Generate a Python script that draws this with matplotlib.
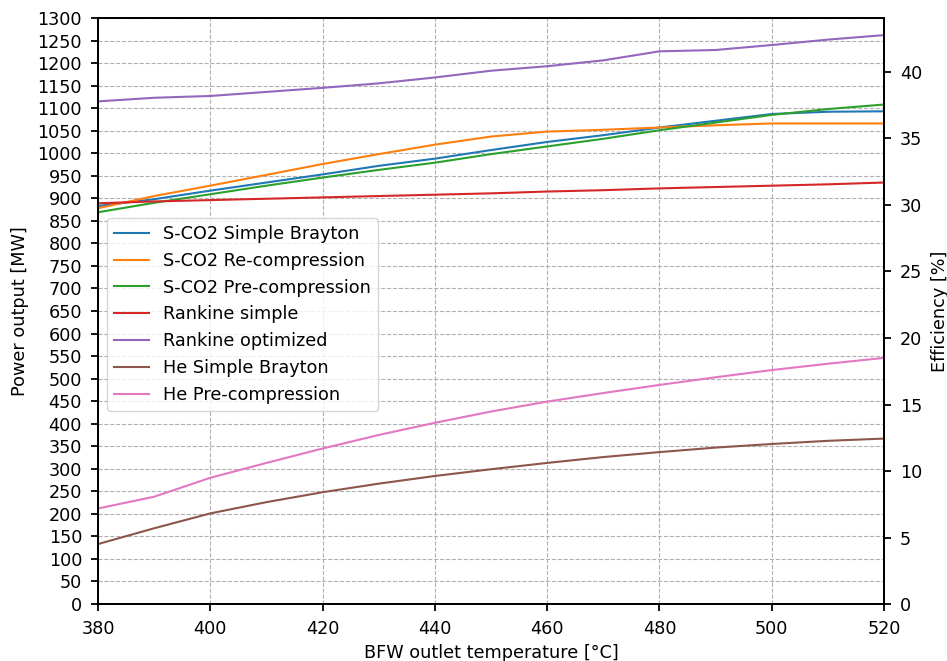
import numpy as np
import matplotlib.pyplot as plt

plt.rcParams['font.size'] = 12.7

temp = [380, 390, 400, 410, 420, 430, 440, 450, 460, 470, 480, 490, 500, 510, 520]

sco2_simple = [883, 898, 917, 935, 953, 972, 988, 1007, 1025, 1040, 1057, 1072, 1087, 1092, 1093]
sco2_recomp = [878, 905, 928, 952, 976, 998, 1019, 1037, 1048, 1052, 1057, 1062, 1066, 1066, 1066]
sco2_precomp = [869, 890, 909, 928, 946, 963, 979, 998, 1015, 1032, 1051, 1068, 1085, 1098, 1108]
rankine_simple = [889, 893, 896, 899, 902, 905, 908, 911, 915, 918, 922, 925, 928, 931, 935]
rankine_opt = [1115, 1123, 1127, 1136, 1145, 1155, 1168, 1183, 1193, 1206, 1226, 1229, 1240, 1252, 1262]
he_simple = [133, 168, 201, 226, 248, 267, 284, 299, 313, 326, 337, 347, 355, 362, 367]
he_precomp = [212, 238, 280, 313, 345, 375, 402, 427, 449, 468, 486, 503, 519, 533, 546]

series = [
    ('S-CO2 Simple Brayton', sco2_simple),
    ('S-CO2 Re-compression', sco2_recomp),
    ('S-CO2 Pre-compression', sco2_precomp),
    ('Rankine simple', rankine_simple),
    ('Rankine optimized', rankine_opt),
    ('He Simple Brayton', he_simple),
    ('He Pre-compression', he_precomp),
]

fig, ax = plt.subplots(figsize=(9.47, 6.61), dpi=100)
fig.subplots_adjust(left=0.1035, right=0.9335, top=0.9728, bottom=0.0862)

for name, vals in series:
    ax.plot(temp, vals, label=name, linewidth=1.5)

ax.set_xlim(380, 520)
ax.set_ylim(0, 1300)
ax.set_yticks(np.arange(0, 1301, 50))
ax.set_xticks(np.arange(380, 521, 20))
ax.grid(True, linestyle='--', color='#b0b0b0', linewidth=0.8)
ax.set_xlabel('BFW outlet temperature [°C]', labelpad=4)
ax.set_ylabel('Power output [MW]', labelpad=6)
ax.tick_params(length=5, width=1.3, pad=6.5)

ax2 = ax.twinx()
ax2.set_ylim(0, 44.06)
ax2.set_yticks(np.arange(0, 41, 5))
ax2.set_ylabel('Efficiency [%]', labelpad=6)
ax2.tick_params(length=5, width=1.3, pad=6.5)

for a in (ax, ax2):
    for sp in a.spines.values():
        sp.set_linewidth(1.4)

ax.legend(loc='upper left', bbox_to_anchor=(0.0115, 0.659), borderaxespad=0,
          fontsize=12.7)

fig.savefig('out.png', dpi=100)
